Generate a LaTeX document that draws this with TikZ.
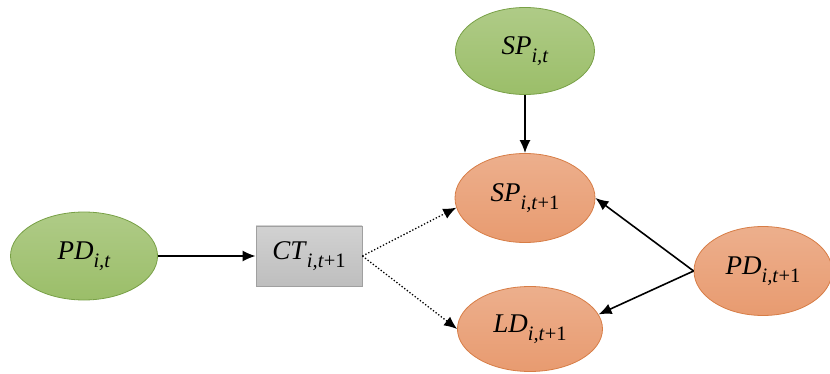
\documentclass[tikz,border=0pt]{standalone}
\usepackage{fontspec}
\setmainfont{Liberation Serif}
\usetikzlibrary{shapes.geometric,arrows.meta}
\definecolor{gfill}{RGB}{155,190,105}
\definecolor{gline}{RGB}{120,160,70}
\definecolor{ofill}{RGB}{232,155,112}
\definecolor{oline}{RGB}{215,125,70}
\definecolor{bfill}{RGB}{190,190,190}
\definecolor{bline}{RGB}{160,160,160}
\newcommand{\lab}[2]{\textit{#1}\raisebox{-0.28em}{\fontsize{20.5}{22}\selectfont #2}}
\tikzset{
  lbl/.style={font=\fontsize{27}{30}\selectfont},
  gnode/.style={lbl,ellipse,draw=gline,line width=0.8pt,top color=gfill!80!white,bottom color=gfill,inner sep=0pt},
  onode/.style={lbl,ellipse,draw=oline,line width=0.8pt,top color=ofill!80!white,bottom color=ofill,inner sep=0pt},
  bnode/.style={lbl,rectangle,draw=bline,line width=0.8pt,top color=bfill!70!white,bottom color=bfill,inner sep=0pt,minimum width=106pt,minimum height=60pt},
  arr/.style={line width=1.6pt,-{Latex[length=13pt,width=11pt]}},
  darr/.style={line width=1.3pt,dotted,-{Latex[length=13pt,width=11pt]}}
}
\begin{document}
\begin{tikzpicture}[x=1pt,y=-1pt]
\useasboundingbox (0,0) rectangle (830,374);
\node[gnode,minimum width=147pt,minimum height=88pt] (pdt) at (84,256) {\lab{PD}{\textit{i,t}}};
\node[bnode] (ct) at (309,256) {\lab{CT}{\textit{i,t}\textup{+1}}};
\node[gnode,minimum width=139pt,minimum height=87pt] (spt) at (525,51) {\lab{SP}{\textit{i,t}}};
\node[onode,minimum width=140pt,minimum height=89pt] (spt1) at (525,198) {\lab{SP}{\textit{i,t}\textup{+1}}};
\node[onode,minimum width=145pt,minimum height=85pt] (ld) at (530,329) {\lab{LD}{\textit{i,t}\textup{+1}}};
\node[onode,minimum width=138pt,minimum height=89pt] (pdt1) at (763,271) {\lab{PD}{\textit{i,t}\textup{+1}}};
\draw[arr] (pdt.east) -- (ct.west);
\draw[arr] (spt.south) -- (spt1.north);
\draw[darr] (ct.east) -- (spt1.188);
\draw[darr] (ct.east) -- (ld.west);
\draw[arr] (pdt1.west) -- (spt1.east);
\draw[arr] (pdt1.west) -- (ld.12);
\end{tikzpicture}
\end{document}
